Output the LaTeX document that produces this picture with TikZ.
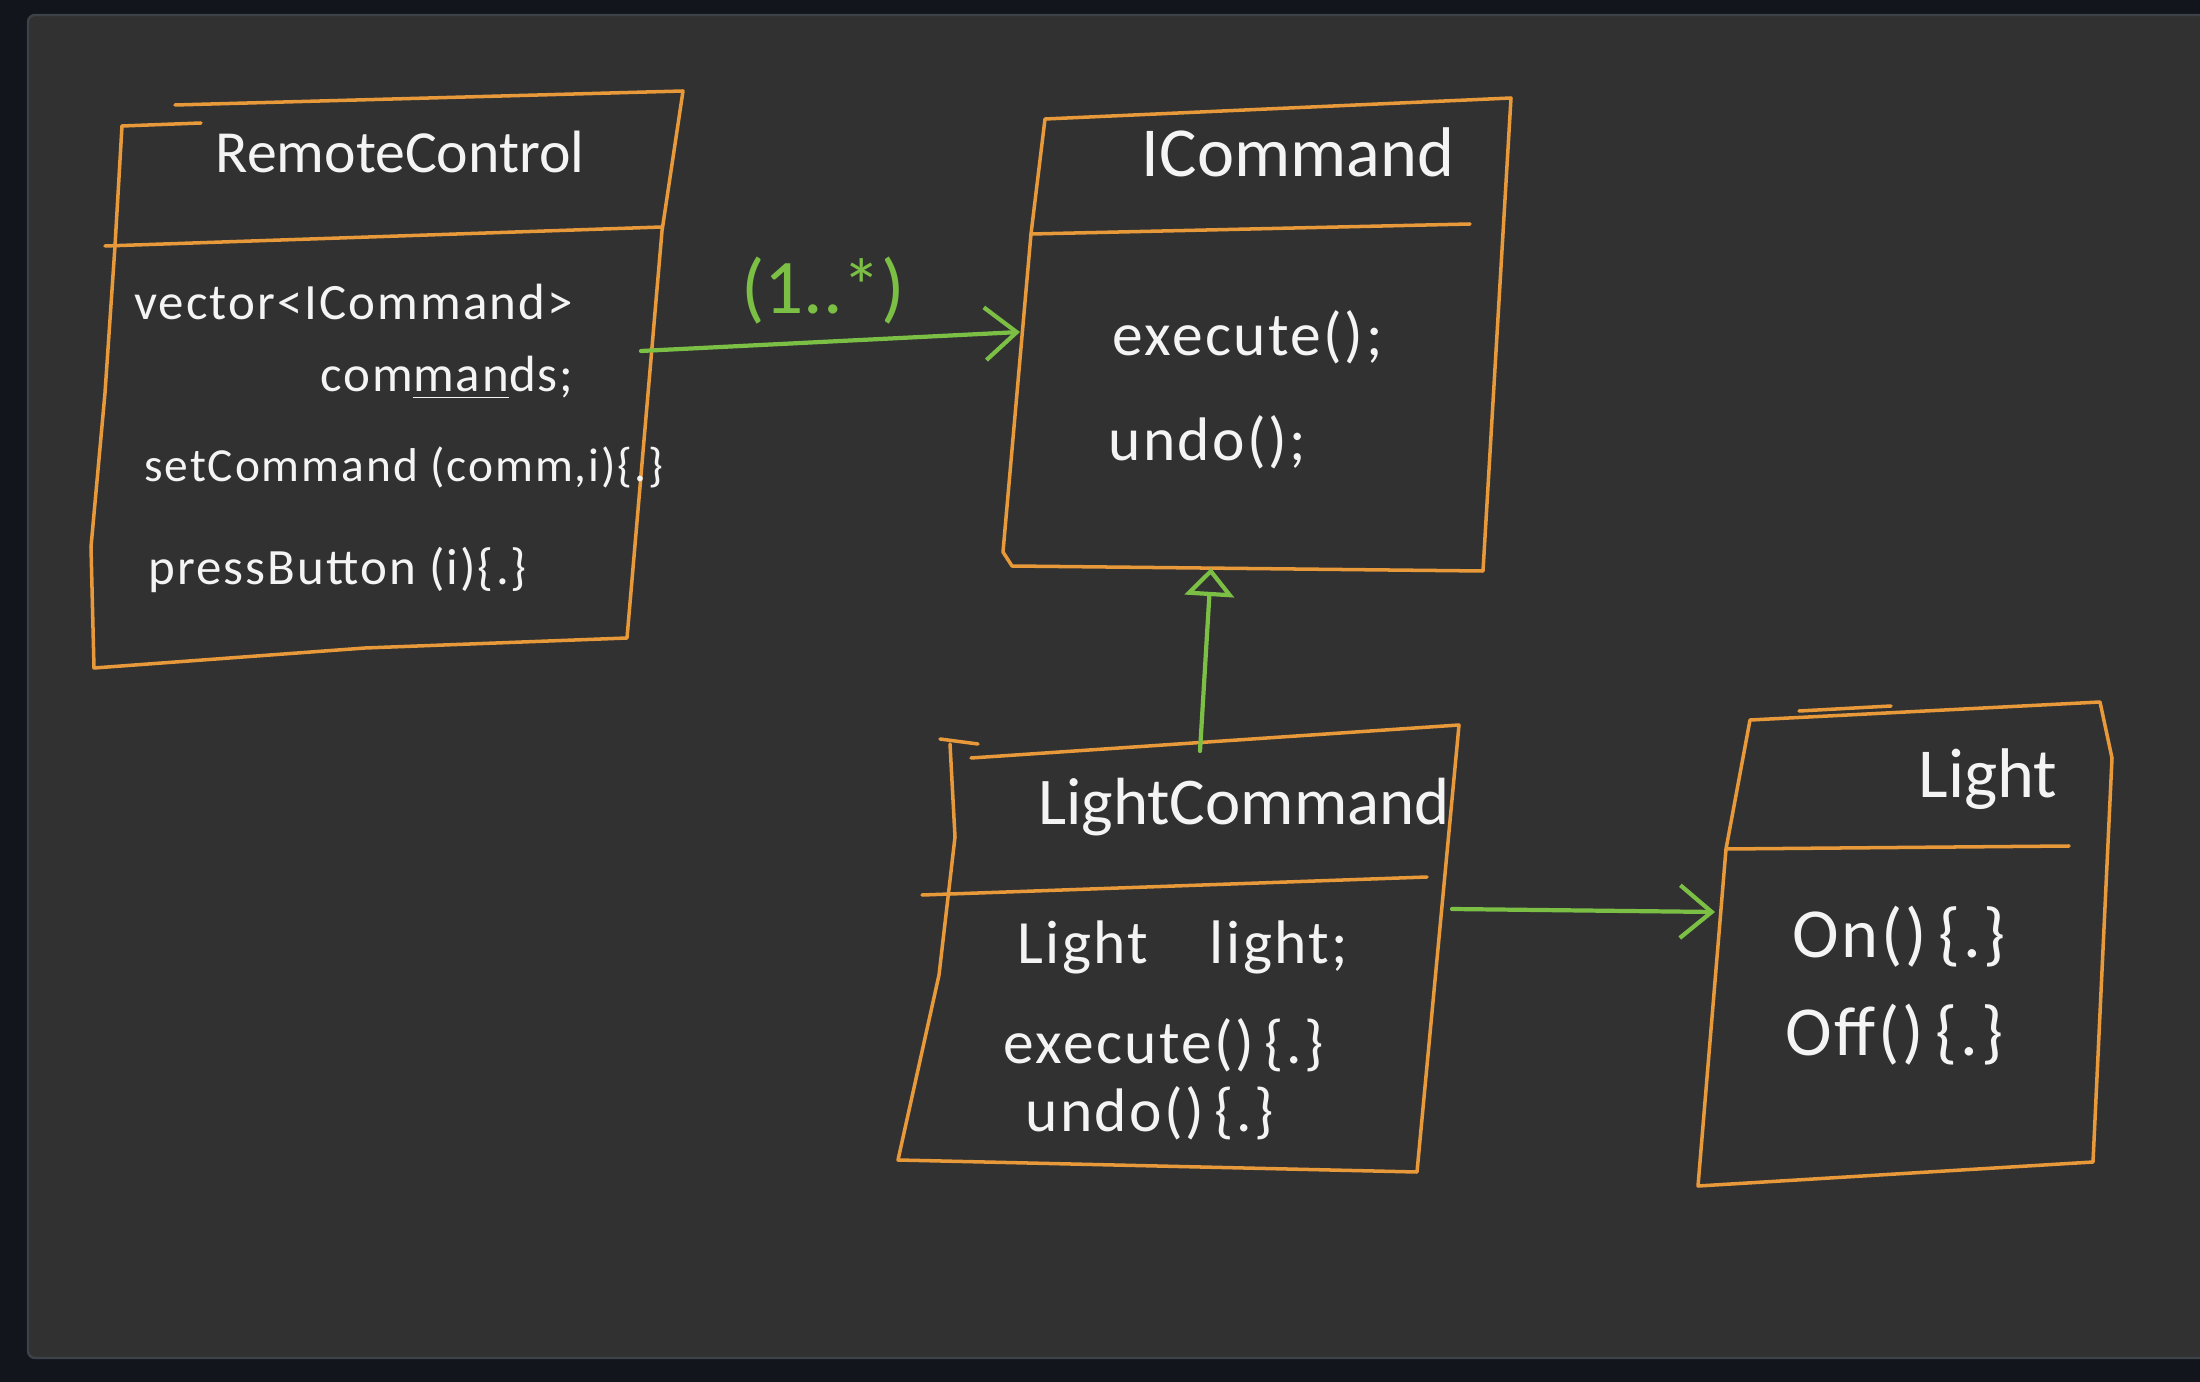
\documentclass[tikz,border=0pt]{standalone}
\usepackage{fontspec}
\setmainfont{Carlito}
\newfontfamily\handfont[LetterSpace=4]{Carlito}
\usetikzlibrary{arrows.meta}
\definecolor{penorange}{HTML}{E8993A}
\definecolor{arrowgreen}{HTML}{7CBF45}
\definecolor{chalk}{HTML}{F4F4F4}
\definecolor{boardgray}{HTML}{313131}
\definecolor{framedark}{HTML}{12151B}
\definecolor{frameedge}{HTML}{3D4148}

\begin{document}
\begin{tikzpicture}[x=0.1mm,y=-0.1mm,
 box/.style={draw=penorange,line width=1pt,line join=round,line cap=round},
 link/.style={draw=arrowgreen,line width=1.2pt,line cap=round,-{Straight Barb[length=9pt,width=15pt]}},
 isa/.style={draw=arrowgreen,line width=1.2pt,line cap=round,-{Triangle[open,length=8pt,width=14pt]}},
 title/.style={text=chalk,font=\fontsize{20}{23}\selectfont},
 member/.style={text=chalk,anchor=west,font=\handfont\fontsize{17.5}{20}\selectfont},
 rcmember/.style={member,font=\handfont\fontsize{14.5}{17}\selectfont},
 limember/.style={member,font=\handfont\fontsize{20}{23}\selectfont}]
 \useasboundingbox (0,0) rectangle (2200,1382);
 % board
 \fill[framedark] (0,0) rectangle (2200,1382);
 \fill[boardgray,draw=frameedge,line width=0.7pt,rounded corners=2pt] (28,15) rectangle (2210,1358);

 % RemoteControl
 \draw[box] (122,126) -- (201,123);
 \draw[box] (175,105) -- (683,91) -- (662,231) -- (627,638) -- (365,648) -- (94,668)
   -- (91,547) -- (105,393) -- (115,246) -- (122,126);
 \draw[box] (105,246) -- (662,227);
 \node[title,font=\fontsize{17}{20}\selectfont] (rc) at (400,152) {RemoteControl};
 \node[rcmember] (rc1) at (122,302) {vector<ICommand>};
 \node[rcmember] (rc2) at (308,378) {com\underline{man}ds;};
 \node[rcmember,font=\handfont\fontsize{13.5}{16}\selectfont] (rc3) at (132,467) {setCommand (comm,i)\{.\}};
 \node[rcmember] (rc4) at (136,570) {pressButton (i)\{.\}};

 % ICommand
 \draw[box] (1045,119) -- (1511,98) -- (1483,571) -- (1012,566) -- (1003,552) -- (1031,234) -- cycle;
 \draw[box] (1031,234) -- (1470,224);
 \node[title] (ic) at (1298,152) {ICommand};
 \node[member] (ic1) at (1100,337) {execute();};
 \node[member] (ic2) at (1096,442) {undo();};

 % LightCommand
 \draw[box] (940,739) -- (978,744);
 \draw[box] (971,758) -- (1459,725) -- (1417,1172) -- (898,1160) -- (939,975) -- (955,837) -- (950,744);
 \draw[box] (922,895) -- (1427,877);
 \node[title,font=\fontsize{19}{22}\selectfont] (lc) at (1244,807) {LightCommand};
 \node[member] (lc1) at (1005,947) {Light\quad light;};
 \node[member] (lc2) at (991,1045) {execute()\,\{.\}};
 \node[member] (lc3) at (1013,1113) {undo()\,\{.\}};

 % Light
 \draw[box] (1799,711) -- (1891,706);
 \draw[box] (1750,720) -- (2100,702) -- (2112,758) -- (2093,1162) -- (1698,1186) -- (1726,849) -- cycle;
 \draw[box] (1726,849) -- (2069,846);
 \node[title] (li) at (1988,779) {Light};
 \node[limember] (li1) at (1780,937) {On()\,\{.\}};
 \node[limember] (li2) at (1773,1035) {Off()\,\{.\}};

 % connectors
 \coordinate (rc out) at (641,351);
 \coordinate (ic in) at (1020,332);
 \coordinate (ic base) at (1211,568);
 \coordinate (lc top) at (1200,751);
 \coordinate (lc out) at (1452,909);
 \coordinate (li in) at (1715,912);
 \draw[link] (rc out) -- node[pos=0.48,above=1pt,text=arrowgreen,font=\fontsize{22}{25}\selectfont] (mult) {(1..*)} (ic in);
 \draw[isa] (lc top) -- (ic base);
 \draw[link] (lc out) -- (li in);
\end{tikzpicture}
\end{document}
